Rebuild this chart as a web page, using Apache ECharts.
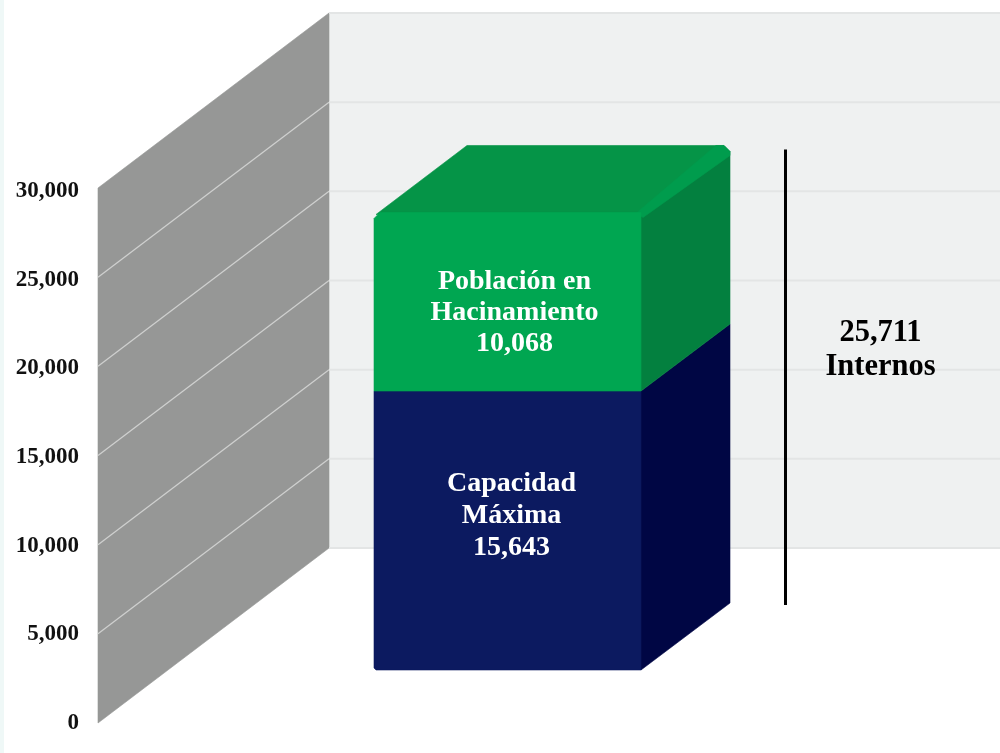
<!DOCTYPE html>
<html>
<head>
<meta charset="utf-8">
<style>
html,body{margin:0;padding:0;background:#fff;}
#strip{position:absolute;left:0;top:0;width:4px;height:753px;background:#eff8f7;}
#chart{position:absolute;left:0;top:0;width:1000px;height:753px;}
</style>
<script src="https://cdn.jsdelivr.net/npm/echarts@6/dist/echarts.min.js"></script>
</head>
<body>
<div id="strip"></div>
<div id="chart"></div>
<script>
var categories = ['Internos'];
var tickValues = [0, 5000, 10000, 15000, 20000, 25000, 30000];
var segmentNames = ['Capacidad\nMáxima', 'Población en\nHacinamiento'];
var segmentValues = [15643, 10068];
var totalValue = 25711;
var totalLabel = 'Internos';

var SERIF = '"Liberation Serif","Times New Roman",serif';
var WALL_DX = 231, WALL_DY = -175;
var BAR_DX = 70, BAR_DY = -53, BAR_W = 267;
var DEPTH_X = 89, DEPTH_Y = -67;
var fmt = function (v) { return String(v).replace(/\B(?=(\d{3})+$)/g, ','); };

var segmentStyles = [
  { front: '#0c1a60', side: '#000644', textDx: 4, textDy: -15, lh: 32 },
  { front: '#00a651', side: '#03803f', top: '#059447', bevel: '#009c4d', textDx: 7, textDy: 11, lh: 31 }
];

function poly(points, fill) {
  return { type: 'polygon', shape: { points: points }, style: { fill: fill, stroke: fill, lineWidth: 0.6, lineJoin: 'round' } };
}

var chart = echarts.init(document.getElementById('chart'), null, { renderer: 'canvas' });
chart.setOption({
  backgroundColor: 'transparent',
  animation: false,
  grid: [
    { left: 98, top: 188, width: 819, height: 535 },
    { left: 98, top: 191, width: 819, height: 532 }
  ],
  xAxis: [
    { type: 'category', data: categories, show: false, gridIndex: 0 },
    { type: 'category', data: categories, show: false, gridIndex: 1 }
  ],
  yAxis: [
    { type: 'value', gridIndex: 0, min: 0, max: 30000, interval: 5000, show: false },
    {
      type: 'value', gridIndex: 1, min: 0, max: 30000, interval: 5000,
      axisLine: { show: false }, axisTick: { show: false }, splitLine: { show: false },
      axisLabel: {
        margin: 19, color: '#111', fontFamily: SERIF, fontWeight: 'bold', fontSize: 23,
        formatter: function (v) { return fmt(v); }
      }
    }
  ],
  series: [
    { // back and side walls
      type: 'custom', clip: false, silent: true, z: 1,
      data: [[0, tickValues[tickValues.length - 1]]],
      renderItem: function (params, api) {
        var b = api.coord([0, 0]), t = api.coord([0, api.value(1)]);
        var x0 = params.coordSys.x, w = api.getWidth();
        return { type: 'group', children: [
          poly([[x0 + WALL_DX, t[1] + WALL_DY], [w, t[1] + WALL_DY], [w, b[1] + WALL_DY], [x0 + WALL_DX, b[1] + WALL_DY]], '#eff1f1'),
          poly([[x0, b[1]], [x0, t[1]], [x0 + WALL_DX, t[1] + WALL_DY], [x0 + WALL_DX, b[1] + WALL_DY]], '#969796')
        ] };
      }
    },
    { // grid lines on both walls
      type: 'custom', clip: false, silent: true, z: 2,
      data: tickValues.map(function (v) { return [0, v]; }),
      renderItem: function (params, api) {
        var y = api.coord([0, api.value(1)])[1];
        var x0 = params.coordSys.x, w = api.getWidth();
        var v = api.value(1), edge = v === 0 || v === 30000;
        var kids = [{ type: 'line', shape: { x1: x0 + WALL_DX, y1: y + WALL_DY, x2: w, y2: y + WALL_DY }, style: { stroke: '#e3e5e5', lineWidth: 2 } }];
        if (!edge) kids.push({ type: 'line', shape: { x1: x0, y1: y, x2: x0 + WALL_DX, y2: y + WALL_DY }, style: { stroke: '#cfd0cf', lineWidth: 1.3 } });
        return { type: 'group', children: kids };
      }
    },
    { // stacked 3D block
      type: 'custom', clip: false, silent: true, z: 3,
      data: segmentValues.map(function (v, i) {
        var start = 0;
        for (var k = 0; k < i; k++) start += segmentValues[k];
        return [0, start, start + v, i];
      }),
      encode: { x: 0, y: [1, 2] },
      renderItem: function (params, api) {
        var i = api.value(3), s = segmentStyles[i];
        var isTop = i === segmentValues.length - 1;
        var c = api.coord([0, api.value(1)]), d = api.coord([0, api.value(2)]);
        var l = c[0] - BAR_W / 2, r = l + BAR_W;
        var yb = c[1] + BAR_DY, yt = d[1] + BAR_DY + (isTop ? 1 : 0);
        var top = yt + DEPTH_Y;
        var kids = [];
        if (isTop) {
          kids.push(poly([[r, yb], [r + DEPTH_X, yb + DEPTH_Y], [r + DEPTH_X, top + 6], [r, yt]], s.side));
          kids.push(poly([[l + 2, yt + 2], [l + DEPTH_X + 4, top], [r + DEPTH_X - 6, top], [r + DEPTH_X, top + 6], [r, yt + 4]], s.top));
          kids.push(poly([[r - 4, yt], [r + 2, yt + 5], [r + DEPTH_X, top + 10], [r + DEPTH_X, top + 6], [r + DEPTH_X - 6, top], [r + DEPTH_X - 14, top]], s.bevel));
          kids.push(poly([[l, yb], [r, yb], [r, yt], [l + 6, yt], [l, yt + 6]], s.front));
        } else {
          kids.push(poly([[r, yb], [r + DEPTH_X, yb + DEPTH_Y], [r + DEPTH_X, yt + DEPTH_Y], [r, yt]], s.side));
          kids.push(poly([[l + 2, yb], [r, yb], [r, yt], [l, yt], [l, yb - 2]], s.front));
        }
        kids.push({
          type: 'text',
          style: {
            x: (l + r) / 2 + s.textDx, y: (yb + yt) / 2 + s.textDy,
            text: segmentNames[i] + '\n' + fmt(segmentValues[i]),
            fill: '#fff', font: 'bold 28px ' + SERIF, lineHeight: s.lh,
            align: 'center', verticalAlign: 'middle'
          }
        });
        return { type: 'group', children: kids };
      }
    },
    { // total bracket line and label
      type: 'custom', clip: false, silent: true, z: 4,
      data: [[0, 0, totalValue]],
      encode: { x: 0, y: [1, 2] },
      renderItem: function (params, api) {
        var c = api.coord([0, api.value(1)]), d = api.coord([0, api.value(2)]);
        var x = c[0] + 278;
        return { type: 'group', children: [
          { type: 'line', shape: { x1: x, y1: c[1] - 118, x2: x, y2: d[1] - 115 }, style: { stroke: '#000', lineWidth: 3 } },
          { type: 'text', style: {
            x: c[0] + 373, y: (c[1] + d[1]) / 2 - 144,
            text: fmt(api.value(2)) + '\n' + totalLabel,
            fill: '#000', font: 'bold 30.5px ' + SERIF, lineHeight: 34,
            align: 'center', verticalAlign: 'middle'
          } }
        ] };
      }
    }
  ]
});
</script>
</body>
</html>
